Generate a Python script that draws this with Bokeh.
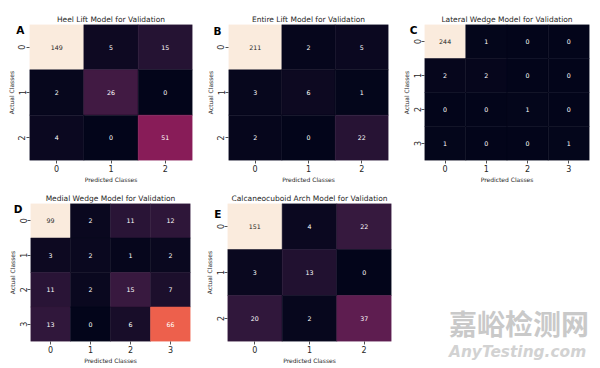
import numpy as np
from bokeh.plotting import figure
from bokeh.layouts import column, row
from bokeh.models import ColumnDataSource, LinearColorMapper, FactorRange, Label, Div
from bokeh.transform import transform
from bokeh.core.properties import value
from bokeh.embed import file_html
from bokeh.resources import INLINE

# ---------------- data ----------------
classes3 = ["0", "1", "2"]
classes4 = ["0", "1", "2", "3"]

heel_lift = [[149, 5, 15],
             [2, 26, 0],
             [4, 0, 51]]
entire_lift = [[211, 2, 5],
               [3, 6, 1],
               [2, 0, 22]]
lateral_wedge = [[244, 1, 0, 0],
                 [2, 2, 0, 0],
                 [0, 0, 1, 0],
                 [1, 0, 0, 1]]
medial_wedge = [[99, 2, 11, 12],
                [3, 2, 1, 2],
                [11, 2, 15, 7],
                [13, 0, 6, 66]]
calcaneocuboid = [[151, 4, 22],
                  [3, 13, 0],
                  [20, 2, 37]]

titles = ["Heel Lift Model for Validation",
          "Entire Lift Model for Validation",
          "Lateral Wedge Model for Validation",
          "Medial Wedge Model for Validation",
          "Calcaneocuboid Arch Model for Validation"]
letters = ["A", "B", "C", "D", "E"]
x_label = "Predicted Classes"
y_label = "Actual Classes"
watermark_cn = "嘉峪检测网"
watermark_en = "AnyTesting.com"

# ---------------- rocket-like palette ----------------
ANCHORS = ["#03051a", "#35193e", "#701f57", "#ad1759", "#e13342", "#f37651", "#f6b48f", "#faebdd"]
POS = np.linspace(0, 1, len(ANCHORS))
rgb = np.array([[int(c[i:i + 2], 16) for i in (1, 3, 5)] for c in ANCHORS], dtype=float)
t = np.linspace(0, 1, 256)
pal_rgb = np.stack([np.interp(t, POS, rgb[:, k]) for k in range(3)], axis=1)
PALETTE = ["#%02x%02x%02x" % tuple(int(round(v)) for v in c) for c in pal_rgb]


def rel_lum(c):
    c = np.asarray(c) / 255.0
    c = np.where(c <= 0.03928, c / 12.92, ((c + 0.055) / 1.055) ** 2.4)
    return 0.2126 * c[0] + 0.7152 * c[1] + 0.0722 * c[2]


FONT = "DejaVu Sans"
TXT = "#262626"


def make_panel(title, letter, matrix, classes, w, h, bl, br, bt, bb, lx, ly):
    flat = [v for r in matrix for v in r]
    lo, hi = min(flat), max(flat)
    xs, ys, vals, tcs = [], [], [], []
    for i, rv in enumerate(matrix):
        for j, v in enumerate(rv):
            xs.append(classes[j])
            ys.append(classes[i])
            vals.append(v)
            idx = int(round((v - lo) / (hi - lo) * 255))
            tcs.append(TXT if rel_lum(pal_rgb[idx]) > 0.408 else "#ffffff")
    src = ColumnDataSource(dict(x=xs, y=ys, v=vals, lbl=[str(v) for v in vals], tc=tcs))
    mapper = LinearColorMapper(palette=PALETTE, low=lo, high=hi)
    p = figure(width=w, height=h, x_range=FactorRange(*classes),
               y_range=FactorRange(*reversed(classes)),
               output_backend="svg", toolbar_location=None,
               min_border_left=bl, min_border_right=br, min_border_top=bt, min_border_bottom=bb)
    p.rect(x="x", y="y", width=1, height=1, source=src,
           fill_color=transform("v", mapper), line_color=transform("v", mapper), line_width=0.5)
    p.text(x="x", y="y", text="lbl", text_color="tc", source=src,
           text_align="center", text_baseline="middle",
           text_font_size="6.3px", text_font=value(FONT))
    p.title.text = title
    p.title.align = "center"
    p.title.text_font = FONT
    p.title.text_font_size = "7.5px"
    p.title.text_font_style = "normal"
    p.title.text_color = TXT
    p.title.standoff = 2
    p.title.offset = 0
    p.grid.grid_line_color = None
    p.outline_line_color = None
    for ax in (p.xaxis[0], p.yaxis[0]):
        ax.axis_line_color = None
        ax.major_tick_in = 0
        ax.major_tick_out = 3
        ax.major_tick_line_color = TXT
        ax.major_tick_line_width = 0.8
        ax.minor_tick_line_color = None
        ax.major_label_text_font = FONT
        ax.major_label_text_font_size = "8px"
        ax.major_label_text_color = TXT
        ax.major_label_standoff = 1
        ax.axis_label_text_font = FONT
        ax.axis_label_text_font_size = "6px"
        ax.axis_label_text_font_style = "normal"
        ax.axis_label_text_color = TXT
        ax.axis_label_standoff = 1
    p.xaxis.axis_label = x_label
    p.yaxis.axis_label = y_label
    p.yaxis.major_label_orientation = "vertical"
    # panel letter: lives in the (otherwise empty) right side panel so it is not
    # clipped by the frame; drawn at canvas coordinates left of the frame
    p.add_layout(Label(x=lx, y=ly, x_units="canvas", y_units="canvas", text=letter,
                       text_align="right", text_baseline="top",
                       text_font=FONT, text_font_size="10.5px",
                       text_font_style="bold", text_color="#000000"), "right")
    return p


pA = make_panel(titles[0], letters[0], heel_lift, classes3, 200, 188, 29, 8, 24, 27, 24, 23)
pB = make_panel(titles[1], letters[1], entire_lift, classes3, 196, 188, 28, 8, 23, 28, 21, 24)
pC = make_panel(titles[2], letters[2], lateral_wedge, classes4, 204, 188, 28, 11, 22, 26, 21, 23)
pD = make_panel(titles[3], letters[3], medial_wedge, classes4, 199, 180, 30, 8, 15, 27, 22, 14)
pE = make_panel(titles[4], letters[4], calcaneocuboid, classes3, 200, 180, 28, 8, 15, 27, 22, 19)

# watermark (as real text in a Div)
wm_html = (
    '<div style="position:relative;width:201px;height:180px;overflow:visible;">'
    '<span style="position:absolute;left:50px;top:121px;white-space:nowrap;line-height:1;'
    "font-family:'Noto Sans CJK SC';font-weight:bold;font-size:28px;color:#c9c9c9;\">"
    + watermark_cn + '</span>'
    '<span style="position:absolute;left:50px;top:157px;white-space:nowrap;line-height:1;'
    "font-family:'DejaVu Sans';font-weight:bold;font-style:italic;font-size:15.4px;color:#d2d2d2;\">"
    + watermark_en + '</span></div>'
)
pW = Div(text=wm_html, width=201, height=180, margin=0)

layout = column(row(pA, pB, pC), row(pD, pE, pW))
open("out.html", "w").write(file_html(layout, INLINE))
